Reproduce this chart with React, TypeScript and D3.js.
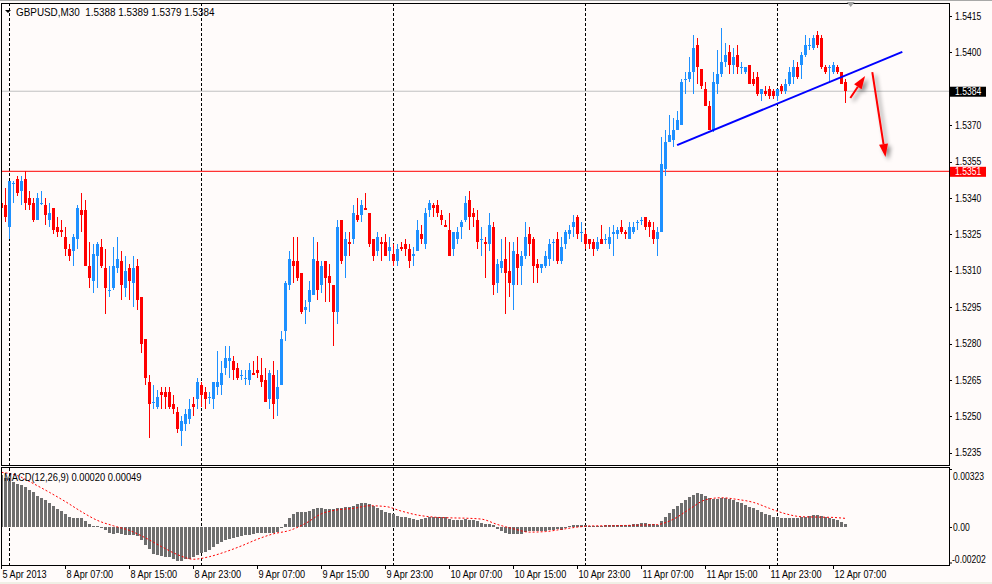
import React from "react";
import * as d3 from "d3";

// GBPUSD M30 bars (index 0 = 5 Apr 23:00)
const opens = [
  1.5338, 1.5337, 1.5328, 1.5346, 1.5348, 1.5343, 1.5348, 1.5340, 1.5338, 1.5331,
  1.5338, 1.5337, 1.5331, 1.5336, 1.5328, 1.5327, 1.5324, 1.5319, 1.5318, 1.5323,
  1.5335, 1.5335, 1.5312, 1.5306, 1.5316, 1.5320, 1.5311, 1.5302, 1.5303, 1.5311,
  1.5314, 1.5303, 1.5311, 1.5305, 1.5312, 1.5299, 1.5282, 1.5264, 1.5256, 1.5254,
  1.5260, 1.5260, 1.5260, 1.5255, 1.5252, 1.5244, 1.5247, 1.5249, 1.5255, 1.5257,
  1.5263, 1.5260, 1.5258, 1.5257, 1.5262, 1.5263, 1.5270, 1.5273, 1.5273, 1.5270,
  1.5267, 1.5266, 1.5265, 1.5268, 1.5269, 1.5267, 1.5265, 1.5257, 1.5267, 1.5257,
  1.5263, 1.5285, 1.5304, 1.5314, 1.5314, 1.5309, 1.5294, 1.5297, 1.5300, 1.5314,
  1.5304, 1.5314, 1.5308, 1.5304, 1.5293, 1.5331, 1.5316, 1.5322, 1.5323, 1.5333,
  1.5333, 1.5336, 1.5334, 1.5323, 1.5318, 1.5322, 1.5322, 1.5318, 1.5317, 1.5314,
  1.5320, 1.5321, 1.5319, 1.5316, 1.5318, 1.5325, 1.5321, 1.5335, 1.5337, 1.5337,
  1.5333, 1.5329, 1.5327, 1.5319, 1.5323, 1.5328, 1.5331, 1.5339, 1.5334, 1.5331,
  1.5323, 1.5322, 1.5321, 1.5328, 1.5305, 1.5311, 1.5315, 1.5310, 1.5304, 1.5317,
  1.5312, 1.5316, 1.5325, 1.5323, 1.5313, 1.5311, 1.5312, 1.5315, 1.5322, 1.5323,
  1.5314, 1.5321, 1.5325, 1.5328, 1.5332, 1.5326, 1.5325, 1.5323, 1.5322, 1.5319,
  1.5323, 1.5323, 1.5321, 1.5325, 1.5325, 1.5328, 1.5326, 1.5323, 1.5326, 1.5330,
  1.5331, 1.5332, 1.5330, 1.5327, 1.5323, 1.5326, 1.5352, 1.5363, 1.5364, 1.5368,
  1.5370, 1.5389, 1.5389, 1.5392, 1.5403, 1.5393, 1.5385, 1.5378, 1.5368, 1.5387,
  1.5391, 1.5396, 1.5400, 1.5395, 1.5399, 1.5394, 1.5392, 1.5395, 1.5389, 1.5390,
  1.5383, 1.5384, 1.5385, 1.5384, 1.5382, 1.5386, 1.5384, 1.5387, 1.5390, 1.5394,
  1.5395, 1.5399, 1.5403, 1.5402, 1.5407, 1.5406, 1.5394, 1.5394, 1.5392, 1.5394,
  1.5392, 1.5388,
];
const highs = [
  1.5349, 1.5344, 1.5347, 1.5347, 1.5349, 1.5349, 1.5351, 1.5343, 1.5340, 1.5342,
  1.5343, 1.5340, 1.5338, 1.5336, 1.5332, 1.5331, 1.5328, 1.5321, 1.5325, 1.5337,
  1.5342, 1.5339, 1.5322, 1.5321, 1.5322, 1.5323, 1.5319, 1.5312, 1.5320, 1.5324,
  1.5318, 1.5316, 1.5313, 1.5316, 1.5315, 1.5299, 1.5282, 1.5267, 1.5263, 1.5261,
  1.5262, 1.5262, 1.5262, 1.5259, 1.5254, 1.5250, 1.5253, 1.5257, 1.5258, 1.5266,
  1.5264, 1.5262, 1.5260, 1.5264, 1.5277, 1.5273, 1.5279, 1.5279, 1.5275, 1.5272,
  1.5269, 1.5269, 1.5272, 1.5273, 1.5275, 1.5274, 1.5270, 1.5269, 1.5273, 1.5269,
  1.5285, 1.5306, 1.5318, 1.5324, 1.5324, 1.5309, 1.5298, 1.5306, 1.5324, 1.5322,
  1.5314, 1.5314, 1.5313, 1.5304, 1.5331, 1.5331, 1.5326, 1.5326, 1.5337, 1.5340,
  1.5339, 1.5342, 1.5334, 1.5323, 1.5326, 1.5324, 1.5325, 1.5324, 1.5321, 1.5321,
  1.5322, 1.5323, 1.5321, 1.5320, 1.5331, 1.5329, 1.5336, 1.5339, 1.5338, 1.5339,
  1.5335, 1.5331, 1.5334, 1.5326, 1.5328, 1.5331, 1.5341, 1.5343, 1.5336, 1.5335,
  1.5328, 1.5324, 1.5334, 1.5330, 1.5315, 1.5323, 1.5324, 1.5322, 1.5322, 1.5324,
  1.5318, 1.5330, 1.5328, 1.5324, 1.5315, 1.5313, 1.5318, 1.5323, 1.5323, 1.5326,
  1.5324, 1.5327, 1.5329, 1.5333, 1.5333, 1.5330, 1.5327, 1.5323, 1.5323, 1.5324,
  1.5329, 1.5325, 1.5328, 1.5329, 1.5328, 1.5331, 1.5327, 1.5330, 1.5330, 1.5331,
  1.5332, 1.5332, 1.5331, 1.5330, 1.5328, 1.5365, 1.5368, 1.5374, 1.5373, 1.5376,
  1.5389, 1.5392, 1.5398, 1.5407, 1.5406, 1.5393, 1.5388, 1.5380, 1.5392, 1.5401,
  1.5410, 1.5404, 1.5403, 1.5402, 1.5403, 1.5396, 1.5394, 1.5395, 1.5392, 1.5392,
  1.5385, 1.5386, 1.5386, 1.5385, 1.5385, 1.5387, 1.5389, 1.5394, 1.5397, 1.5396,
  1.5400, 1.5407, 1.5406, 1.5407, 1.5409, 1.5407, 1.5395, 1.5395, 1.5396, 1.5395,
  1.5392, 1.5389,
];
const lows = [
  1.5331, 1.5330, 1.5323, 1.5338, 1.5341, 1.5337, 1.5335, 1.5335, 1.5330, 1.5331,
  1.5337, 1.5329, 1.5328, 1.5325, 1.5324, 1.5324, 1.5316, 1.5314, 1.5312, 1.5319,
  1.5326, 1.5312, 1.5303, 1.5301, 1.5303, 1.5311, 1.5292, 1.5299, 1.5302, 1.5309,
  1.5298, 1.5299, 1.5298, 1.5295, 1.5294, 1.5276, 1.5263, 1.5241, 1.5253, 1.5253,
  1.5253, 1.5253, 1.5253, 1.5251, 1.5243, 1.5238, 1.5244, 1.5247, 1.5250, 1.5253,
  1.5254, 1.5253, 1.5255, 1.5253, 1.5259, 1.5259, 1.5267, 1.5266, 1.5265, 1.5265,
  1.5265, 1.5263, 1.5263, 1.5267, 1.5266, 1.5262, 1.5256, 1.5253, 1.5249, 1.5250,
  1.5263, 1.5281, 1.5302, 1.5305, 1.5306, 1.5292, 1.5288, 1.5293, 1.5300, 1.5298,
  1.5301, 1.5297, 1.5297, 1.5279, 1.5288, 1.5313, 1.5307, 1.5316, 1.5321, 1.5330,
  1.5330, 1.5335, 1.5320, 1.5314, 1.5316, 1.5314, 1.5316, 1.5314, 1.5312, 1.5312,
  1.5318, 1.5316, 1.5311, 1.5312, 1.5318, 1.5321, 1.5319, 1.5332, 1.5332, 1.5332,
  1.5329, 1.5328, 1.5316, 1.5316, 1.5321, 1.5323, 1.5330, 1.5327, 1.5328, 1.5319,
  1.5316, 1.5307, 1.5318, 1.5300, 1.5301, 1.5309, 1.5292, 1.5299, 1.5294, 1.5304,
  1.5304, 1.5315, 1.5316, 1.5305, 1.5305, 1.5309, 1.5311, 1.5312, 1.5314, 1.5313,
  1.5313, 1.5319, 1.5323, 1.5324, 1.5323, 1.5322, 1.5319, 1.5319, 1.5316, 1.5318,
  1.5321, 1.5321, 1.5319, 1.5316, 1.5323, 1.5325, 1.5323, 1.5323, 1.5325, 1.5327,
  1.5329, 1.5327, 1.5324, 1.5321, 1.5316, 1.5326, 1.5349, 1.5363, 1.5361, 1.5368,
  1.5370, 1.5383, 1.5388, 1.5383, 1.5387, 1.5385, 1.5378, 1.5368, 1.5367, 1.5383,
  1.5390, 1.5394, 1.5391, 1.5391, 1.5391, 1.5391, 1.5391, 1.5387, 1.5386, 1.5382,
  1.5380, 1.5382, 1.5381, 1.5381, 1.5380, 1.5383, 1.5383, 1.5386, 1.5387, 1.5389,
  1.5389, 1.5398, 1.5401, 1.5401, 1.5402, 1.5393, 1.5391, 1.5388, 1.5391, 1.5391,
  1.5387, 1.5379,
];
const closes = [
  1.5336, 1.5332, 1.5347, 1.5346, 1.5342, 1.5347, 1.5338, 1.5337, 1.5331, 1.5340,
  1.5338, 1.5333, 1.5334, 1.5327, 1.5326, 1.5326, 1.5319, 1.5316, 1.5324, 1.5336,
  1.5333, 1.5312, 1.5307, 1.5317, 1.5321, 1.5312, 1.5303, 1.5302, 1.5312, 1.5315,
  1.5304, 1.5310, 1.5306, 1.5311, 1.5298, 1.5280, 1.5266, 1.5255, 1.5256, 1.5258,
  1.5259, 1.5258, 1.5254, 1.5253, 1.5245, 1.5248, 1.5251, 1.5253, 1.5254, 1.5264,
  1.5259, 1.5257, 1.5258, 1.5264, 1.5264, 1.5268, 1.5274, 1.5274, 1.5269, 1.5266,
  1.5267, 1.5266, 1.5269, 1.5267, 1.5268, 1.5264, 1.5256, 1.5268, 1.5255, 1.5262,
  1.5282, 1.5305, 1.5315, 1.5312, 1.5307, 1.5293, 1.5295, 1.5302, 1.5315, 1.5302,
  1.5312, 1.5307, 1.5305, 1.5293, 1.5328, 1.5314, 1.5323, 1.5321, 1.5334, 1.5331,
  1.5337, 1.5335, 1.5321, 1.5316, 1.5324, 1.5321, 1.5316, 1.5320, 1.5314, 1.5319,
  1.5319, 1.5319, 1.5314, 1.5317, 1.5327, 1.5323, 1.5334, 1.5338, 1.5336, 1.5334,
  1.5331, 1.5328, 1.5316, 1.5326, 1.5326, 1.5330, 1.5338, 1.5332, 1.5332, 1.5322,
  1.5323, 1.5321, 1.5329, 1.5304, 1.5313, 1.5314, 1.5309, 1.5305, 1.5318, 1.5311,
  1.5316, 1.5324, 1.5321, 1.5312, 1.5311, 1.5313, 1.5316, 1.5321, 1.5322, 1.5314,
  1.5320, 1.5326, 1.5327, 1.5330, 1.5325, 1.5326, 1.5321, 1.5321, 1.5319, 1.5322,
  1.5321, 1.5323, 1.5324, 1.5326, 1.5327, 1.5326, 1.5325, 1.5328, 1.5328, 1.5330,
  1.5331, 1.5328, 1.5328, 1.5323, 1.5326, 1.5354, 1.5363, 1.5366, 1.5368, 1.5372,
  1.5388, 1.5389, 1.5392, 1.5402, 1.5394, 1.5386, 1.5378, 1.5368, 1.5388, 1.5391,
  1.5396, 1.5399, 1.5395, 1.5398, 1.5394, 1.5394, 1.5394, 1.5387, 1.5387, 1.5383,
  1.5385, 1.5383, 1.5382, 1.5382, 1.5385, 1.5384, 1.5387, 1.5392, 1.5394, 1.5390,
  1.5399, 1.5403, 1.5403, 1.5406, 1.5403, 1.5394, 1.5392, 1.5394, 1.5395, 1.5392,
  1.5387, 1.5384,
];

// MACD(12,26,9) histogram, one value per bar
const macdHist = [
  0.00283, 0.00265, 0.0025, 0.00247, 0.00236, 0.00229, 0.00218, 0.00203, 0.00189, 0.00167,
  0.00157, 0.00146, 0.00131, 0.00117, 0.00099, 0.00088, 0.0007, 0.00056, 0.00052, 0.00052,
  0.00052, 0.00034, 0.0002, 0.00009, 0.00009, -0.00005, -0.00016, -0.00027, -0.00034, -0.00031,
  -0.00034, -0.00038, -0.00041, -0.00041, -0.00045, -0.00067, -0.00092, -0.00117, -0.00142, -0.00149,
  -0.00153, -0.00157, -0.0016, -0.00167, -0.00178, -0.00178, -0.00171, -0.00167, -0.0016, -0.00146,
  -0.00139, -0.00131, -0.00121, -0.00106, -0.00088, -0.00077, -0.0007, -0.00063, -0.00056, -0.00049,
  -0.00045, -0.00041, -0.00038, -0.00034, -0.00031, -0.00031, -0.00031, -0.00027, -0.00027, -0.00023,
  -0.00005, 0.0002, 0.00049, 0.0007, 0.00085, 0.00085, 0.00085, 0.00088, 0.00099, 0.00103,
  0.00106, 0.00099, 0.00099, 0.00099, 0.00103, 0.00106, 0.0011, 0.0011, 0.00117, 0.00124,
  0.00131, 0.00131, 0.00124, 0.00117, 0.00103, 0.00092, 0.00081, 0.00077, 0.0007, 0.00063,
  0.00059, 0.00056, 0.00052, 0.00045, 0.00041, 0.00045, 0.00052, 0.00056, 0.00059, 0.00059,
  0.00059, 0.00056, 0.00045, 0.00041, 0.00038, 0.00038, 0.00045, 0.00041, 0.00041, 0.00034,
  0.00023, 0.0002, 0.0002, 0.00011, -0.00009, -0.0002, -0.00027, -0.00034, -0.00034, -0.00034,
  -0.00034, -0.00023, -0.0002, -0.0002, -0.0002, -0.0002, -0.0002, -0.00016, -0.00013, -0.00009,
  -0.00013, -0.00005, 0.00009, 0.00013, 0.00016, 0.00016, 0.00013, 0.00009, 0.00009, 0.00009,
  0.00009, 0.00013, 0.00013, 0.00013, 0.00013, 0.00013, 0.00013, 0.00016, 0.0002, 0.0002,
  0.00023, 0.00023, 0.0002, 0.0002, 0.00016, 0.00034, 0.00056, 0.00077, 0.00099, 0.00117,
  0.00131, 0.00146, 0.00164, 0.00175, 0.00185, 0.00182, 0.00171, 0.00157, 0.00153, 0.00153,
  0.00157, 0.00157, 0.00153, 0.00149, 0.00139, 0.00131, 0.00121, 0.00113, 0.00106, 0.00095,
  0.00085, 0.00074, 0.00067, 0.00059, 0.00056, 0.00049, 0.00049, 0.00049, 0.00049, 0.00052,
  0.00056, 0.00059, 0.00063, 0.00067, 0.00067, 0.00063, 0.00056, 0.00049, 0.00045, 0.00038,
  0.00031, 0.0002,
];

// signal line, read every few bars
const signalBars = [
  0, 4, 8, 12, 16, 20, 24, 28, 32, 36, 40, 44, 48, 52, 56, 60, 64, 68, 72, 76,
  80, 84, 88, 92, 96, 100, 104, 108, 112, 116, 120, 124, 128, 132, 136, 140, 144, 148, 152, 156,
  160, 164, 168, 172, 176, 180, 184, 188, 192, 196, 200, 204, 208, 211,
];
const signalValues = [
  0.00297, 0.00279, 0.00236, 0.00189, 0.00139, 0.00085, 0.00038, 0.00009, -0.00016, -0.00056,
  -0.00103, -0.00146, -0.00171, -0.00157, -0.00131, -0.00099, -0.00063, -0.00034, -0.00016, 0.00022,
  0.00074, 0.00095, 0.00103, 0.00117, 0.00113, 0.00088, 0.00067, 0.00056, 0.00052, 0.0005,
  0.00045, 0.00016, -0.00007, -0.00025, -0.00022, -0.0001, 0.00002, 0.00009, 0.00009, 0.00011,
  0.00013, 0.00016, 0.00045, 0.00099, 0.00149, 0.0016, 0.00151, 0.00135, 0.00103, 0.00074,
  0.00058, 0.00056, 0.00054, 0.00049,
];

const priceTicks = [1.5415, 1.54, 1.5385, 1.537, 1.5355, 1.534, 1.5325, 1.531, 1.5295, 1.528, 1.5265, 1.525, 1.5235];
const timeLabels = [
  "5 Apr 2013", "8 Apr 07:00", "8 Apr 15:00", "8 Apr 23:00", "9 Apr 07:00", "9 Apr 15:00", "9 Apr 23:00",
  "10 Apr 07:00", "10 Apr 15:00", "10 Apr 23:00", "11 Apr 07:00", "11 Apr 15:00", "11 Apr 23:00", "12 Apr 07:00",
];
const labelStep = 16;
const dayGridBars = [2, 50, 98, 146, 194];

const lastPrice = 1.5384;
const levelPrice = 1.5351;
const macdTop = 0.00323;
const macdBottom = -0.00202;

// drawn objects in (bar, price)
const trendLine = [[168.9, 1.53618], [225.2, 1.54002]];
const arrows = [
  [[212.2, 1.53812], [215.9, 1.53903]],
  [[217.7, 1.53919], [221.0, 1.53569]],
];

const W = 992;
const H = 584;
const plotL = 1;
const plotR = 949;
const mainT = 3;
const mainB = 465;
const macdT = 467.5;
const macdB = 565;
const font = "'Liberation Sans', Arial, sans-serif";
const bull = "#1e90ff";
const bear = "#ff0000";

const fmt4 = d3.format(".4f");

// terminal font is narrower than Arial, so squeeze it horizontally
const T = ({ x, y, s, fill, children }: { x: number; y: number; s: number; fill?: string; children: React.ReactNode }) => (
  <text transform={`translate(${x},${y}) scale(${s},1)`} fontSize={11} fill={fill || "#000"}>
    {children}
  </text>
);

export default function App() {
  const x = d3.scaleLinear().domain([0, 1]).range([1.5, 5.5]);
  const y = d3.scaleLinear().domain([1.5235, 1.5415]).range([452.8, 16]);
  const ym = d3.scaleLinear().domain([macdBottom, macdTop]).range([macdB, macdT]);

  const signalPath = d3
    .line<number>()
    .x((_, i) => x(signalBars[i]))
    .y((v) => ym(v))
    .curve(d3.curveMonotoneX)(signalValues);

  const arrowShape = (a: number[][]) => {
    const x1 = x(a[0][0]), y1 = y(a[0][1]);
    const x2 = x(a[1][0]), y2 = y(a[1][1]);
    const ang = Math.atan2(y2 - y1, x2 - x1);
    const hl = 13, hw = 4.5;
    const bx = x2 - hl * Math.cos(ang), by = y2 - hl * Math.sin(ang);
    const px = -Math.sin(ang) * hw, py = Math.cos(ang) * hw;
    return (
      <g>
        <line x1={x1} y1={y1} x2={bx} y2={by} stroke={bear} strokeWidth={2} />
        <path d={`M${x2},${y2}L${bx + px},${by + py}L${bx - px},${by - py}Z`} fill={bear} />
      </g>
    );
  };

  const zero = ym(0);
  // labels hidden behind the price boxes are not drawn
  const boxes = [lastPrice, levelPrice];
  const shownTicks = priceTicks.filter((p) => boxes.every((b) => Math.abs(y(p) - y(b)) > 8));

  return (
    <svg width={W} height={H} style={{ position: "absolute", left: 0, top: 0, background: "#fffbfa" }} fontFamily={font}>
      <defs>
        <filter id="shadow" x="-50%" y="-50%" width="200%" height="200%">
          <feDropShadow dx="3" dy="3" stdDeviation="2" floodColor="#000" floodOpacity="0.45" />
        </filter>
        <clipPath id="mainClip">
          <rect x={plotL} y={mainT} width={plotR - plotL} height={mainB - mainT} />
        </clipPath>
        <clipPath id="macdClip">
          <rect x={plotL} y={macdT} width={plotR - plotL} height={macdB - macdT} />
        </clipPath>
      </defs>
      <rect x={0} y={0} width={W} height={H} fill="#fffbfa" />
      <rect x={0} y={0} width={W} height={1} fill="#a8a8a8" />

      {/* day separators */}
      {dayGridBars.map((b) => (
        <g key={b} shapeRendering="crispEdges">
          <line x1={x(b)} x2={x(b)} y1={mainT} y2={mainB} stroke="#000" strokeDasharray="3,2" />
          <line x1={x(b)} x2={x(b)} y1={macdT} y2={macdB} stroke="#000" strokeDasharray="3,2" />
        </g>
      ))}

      <g clipPath="url(#mainClip)">
        <line x1={plotL} x2={plotR} y1={y(lastPrice)} y2={y(lastPrice)} stroke="#c0c0c0" />
        <line x1={plotL} x2={plotR} y1={y(levelPrice)} y2={y(levelPrice)} stroke="#ff0000" />

        <g shapeRendering="crispEdges">
          {closes.map((c, i) => {
            const o = opens[i];
            const col = c >= o ? bull : bear;
            const top = Math.round(y(Math.max(o, c)));
            const bot = Math.round(y(Math.min(o, c)));
            return (
              <g key={i}>
                <line x1={x(i)} x2={x(i)} y1={y(highs[i])} y2={y(lows[i])} stroke={col} />
                <rect x={x(i) - 1.5} y={top} width={3} height={Math.max(1, bot - top)} fill={col} />
              </g>
            );
          })}
        </g>

        <line
          x1={x(trendLine[0][0])}
          y1={y(trendLine[0][1])}
          x2={x(trendLine[1][0])}
          y2={y(trendLine[1][1])}
          stroke="#0000ff"
          strokeWidth={2}
        />
        <g filter="url(#shadow)">
          {arrows.map((a, i) => (
            <g key={i}>{arrowShape(a)}</g>
          ))}
        </g>
      </g>

      {/* MACD */}
      <g clipPath="url(#macdClip)">
        <g shapeRendering="crispEdges">
          {macdHist.map((v, i) => {
            const yv = Math.round(ym(v));
            const z = Math.round(zero);
            return <rect key={i} x={x(i) - 1.5} y={Math.min(yv, z)} width={3} height={Math.max(1, Math.abs(z - yv))} fill="#6e6e6e" />;
          })}
        </g>
        <path d={signalPath || ""} fill="none" stroke="#ff0000" strokeDasharray="2,2" />
      </g>

      {/* frames */}
      <g fill="none" stroke="#000" shapeRendering="crispEdges">
        <rect x={plotL} y={mainT} width={plotR - plotL} height={mainB - mainT} />
        <rect x={plotL} y={macdT} width={plotR - plotL} height={macdB - macdT} />
      </g>

      {/* header */}
      <path d="M5,10L11,10L8,13Z" fill="#000" />
      <T x={16} y={15.5} s={0.9}>
        GBPUSD,M30{"\u00a0\u00a0"}1.5388 1.5389 1.5379 1.5384
      </T>
      <path d={`M${x(212.3) - 4},2L${x(212.3) + 4},2L${x(212.3)},7Z`} fill="#a0a0a0" />
      <T x={4} y={481} s={0.85}>
        MACD(12,26,9) 0.00020 0.00049
      </T>

      {/* price axis */}
      {priceTicks.map((p) => (
        <line key={p} x1={plotR} x2={plotR + 3} y1={Math.round(y(p)) + 0.5} y2={Math.round(y(p)) + 0.5} stroke="#000" />
      ))}
      {shownTicks.map((p) => (
        <T key={p} x={955} y={y(p) + 3.5} s={0.78}>
          {fmt4(p)}
        </T>
      ))}
      <rect x={950} y={y(lastPrice) - 4.5} width={36} height={10} fill="#000" />
      <T x={955} y={y(lastPrice) + 4} s={0.78} fill="#fff">
        {fmt4(lastPrice)}
      </T>
      <rect x={950} y={y(levelPrice) - 4.5} width={36} height={10} fill="#ff0000" />
      <T x={955} y={y(levelPrice) + 4} s={0.78} fill="#fff">
        {fmt4(levelPrice)}
      </T>

      {/* MACD axis */}
      <line x1={plotR} x2={plotR + 3} y1={macdT + 2} y2={macdT + 2} stroke="#000" />
      <T x={953} y={ym(macdTop) + 12} s={0.78}>0.00323</T>
      <line x1={plotR} x2={plotR + 3} y1={zero} y2={zero} stroke="#000" />
      <T x={953} y={zero + 4} s={0.78}>0.00</T>
      <line x1={plotR} x2={plotR + 3} y1={macdB - 2} y2={macdB - 2} stroke="#000" />
      <T x={952} y={ym(macdBottom) - 2} s={0.78}>-0.00202</T>

      {/* time axis */}
      {timeLabels.map((t, i) => {
        const b = i * labelStep;
        return (
          <g key={t}>
            <line x1={x(b)} x2={x(b)} y1={macdB} y2={macdB + 4} stroke="#000" />
            <T x={x(b) + 1} y={578} s={0.83}>
              {t}
            </T>
          </g>
        );
      })}
      <rect x={0} y={582} width={W} height={2} fill="#f0f0e6" />
    </svg>
  );
}
